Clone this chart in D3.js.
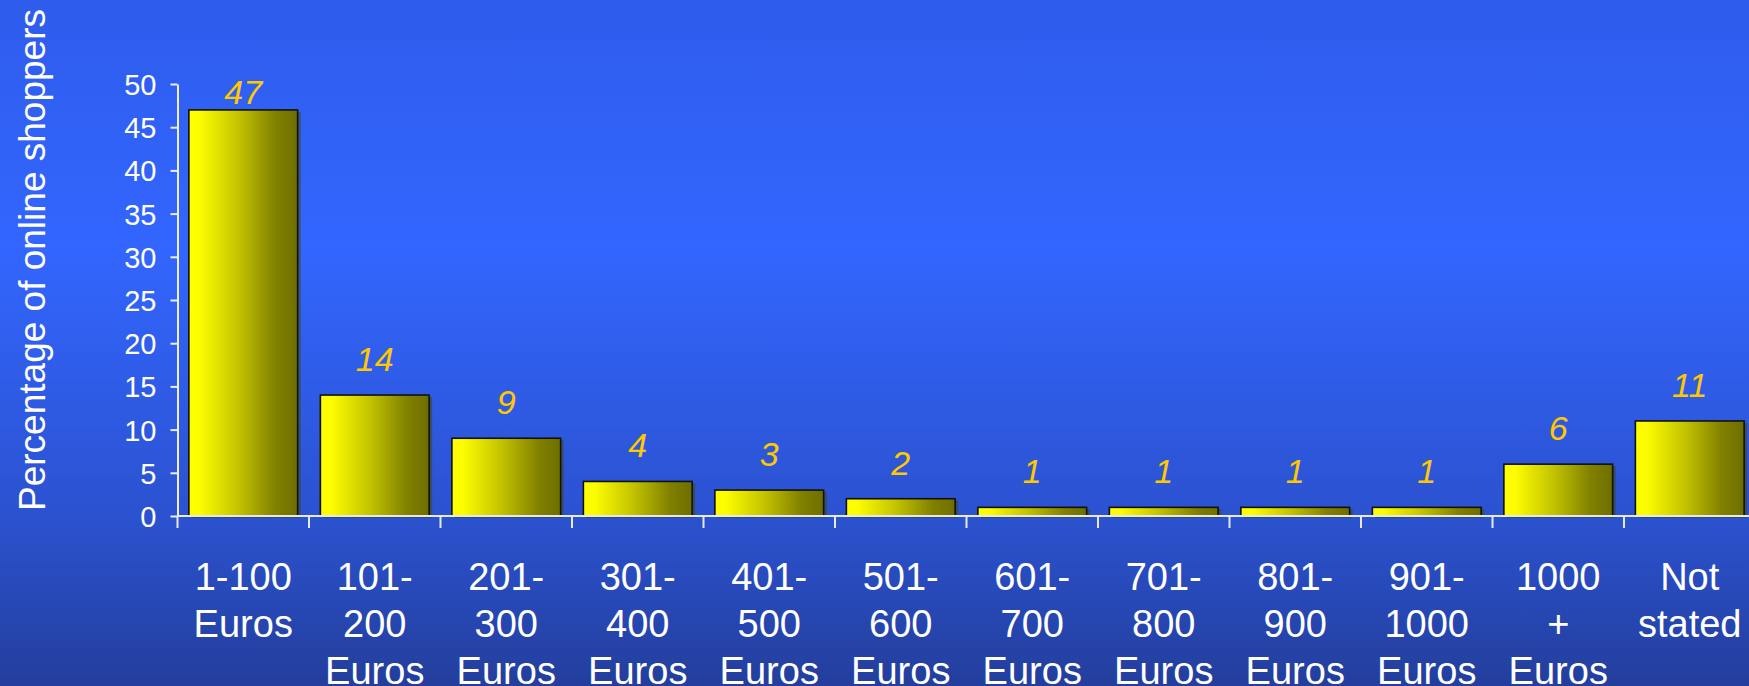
<!DOCTYPE html>
<html>
<head>
<meta charset="utf-8">
<script src="https://cdn.jsdelivr.net/npm/d3@7"></script>
<style>
  html, body { margin: 0; padding: 0; background: #2f5fef; }
  svg { display: block; }
  text { font-family: "Liberation Sans", Arial, Helvetica, sans-serif; }
</style>
</head>
<body>
<svg id="chart" width="1749" height="686"></svg>
<script>
// Spending ranges (categories) and the share of online shoppers in each
const categories = [
  "1-100 Euros", "101-200 Euros", "201-300 Euros", "301-400 Euros",
  "401-500 Euros", "501-600 Euros", "601-700 Euros", "701-800 Euros",
  "801-900 Euros", "901-1000 Euros", "1000 + Euros", "Not stated"
];
const shares = [47, 14, 9, 4, 3, 2, 1, 1, 1, 1, 6, 11];
const categoryLabelLines = [
  ["1-100", "Euros"], ["101-", "200", "Euros"], ["201-", "300", "Euros"],
  ["301-", "400", "Euros"], ["401-", "500", "Euros"], ["501-", "600", "Euros"],
  ["601-", "700", "Euros"], ["701-", "800", "Euros"], ["801-", "900", "Euros"],
  ["901-", "1000", "Euros"], ["1000", "+", "Euros"], ["Not", "stated"]
];
const yTicks = [0, 5, 10, 15, 20, 25, 30, 35, 40, 45, 50];
const yTitle = "Percentage of online shoppers";

const W = 1749, H = 686;
const svg = d3.select("#chart");
const defs = svg.append("defs");

// Slide-style blue backdrop
const bg = defs.append("linearGradient").attr("id", "bg")
  .attr("x1", 0).attr("y1", 0).attr("x2", 0).attr("y2", 1);
[[0, "#2e5cec"], [0.36, "#3366ff"], [0.75, "#2b52d0"], [1, "#233e9c"]]
  .forEach(([o, c]) => bg.append("stop").attr("offset", o).attr("stop-color", c));
svg.append("rect").attr("width", W).attr("height", H).attr("fill", "url(#bg)");

// Yellow-to-olive bar shading
const barGrad = defs.append("linearGradient").attr("id", "barGrad")
  .attr("x1", 0).attr("y1", 0).attr("x2", 1).attr("y2", 0);
[[0, "#ffff00"], [0.1, "#fdfd00"], [0.45, "#c4c400"], [0.8, "#808000"], [1, "#6e6e00"]]
  .forEach(([o, c]) => barGrad.append("stop").attr("offset", o).attr("stop-color", c));

const plotLeft = 177.5, step = 131.5, plotTop = 84, plotBottom = 516;
const pad = 0.173;

const x = d3.scaleBand()
  .domain(categories)
  .range([plotLeft, plotLeft + step * categories.length])
  .paddingInner(pad)
  .paddingOuter(pad / 2);

const y = d3.scaleLinear().domain([0, 50]).range([plotBottom, plotTop]);

// Bars with a faint drop shadow
const bars = svg.append("g");
bars.selectAll("rect.shadow").data(categories).join("rect")
  .attr("class", "shadow")
  .attr("x", d => x(d) + 3)
  .attr("y", (d, i) => y(shares[i]) + 2)
  .attr("width", x.bandwidth())
  .attr("height", (d, i) => y(0) - y(shares[i]))
  .attr("fill", "rgba(70,70,0,0.55)");
bars.selectAll("rect.bar").data(categories).join("rect")
  .attr("class", "bar")
  .attr("x", d => x(d))
  .attr("y", (d, i) => y(shares[i]))
  .attr("width", x.bandwidth())
  .attr("height", (d, i) => y(0) - y(shares[i]))
  .attr("fill", "url(#barGrad)")
  .attr("stroke", "#111")
  .attr("stroke-width", 1.6);

// Value labels above the bars
svg.append("g").selectAll("text").data(categories).join("text")
  .attr("x", d => x(d) + x.bandwidth() / 2)
  .attr("y", (d, i) => Math.max(y(shares[i]) - 24, y(50) + 20))
  .attr("text-anchor", "middle")
  .attr("font-size", 34)
  .attr("font-style", "italic")
  .attr("fill", "#ffc800")
  .text((d, i) => shares[i]);

// Y axis
const yAxis = svg.append("g")
  .attr("transform", `translate(${plotLeft},0)`)
  .call(d3.axisLeft(y).tickValues(yTicks).tickSize(7).tickSizeOuter(0).tickPadding(14));
yAxis.select(".domain").attr("stroke", "#eeeeee").attr("stroke-width", 2);
yAxis.selectAll(".tick line").attr("stroke", "#eeeeee").attr("stroke-width", 2);
yAxis.selectAll(".tick text")
  .attr("fill", "#ffffff")
  .attr("font-size", 29)
  .attr("font-family", "Liberation Sans, Arial, sans-serif")
  .attr("dy", "0.36em");

// X axis baseline and boundary ticks
const boundaries = categories.map(c => x(c) - x.step() * pad / 2)
  .concat([x(categories[categories.length - 1]) + x.bandwidth() + x.step() * pad / 2]);
const xAxis = svg.append("g");
xAxis.append("line")
  .attr("x1", plotLeft).attr("x2", W)
  .attr("y1", y(0)).attr("y2", y(0))
  .attr("stroke", "#e8e8e8").attr("stroke-width", 2.2);
xAxis.selectAll("line.tick").data(boundaries).join("line")
  .attr("class", "tick")
  .attr("x1", d => d).attr("x2", d => d)
  .attr("y1", y(0)).attr("y2", y(0) + 12)
  .attr("stroke", "#e8e8e8").attr("stroke-width", 2);

// Category labels, one tspan per line
const catText = svg.append("g").selectAll("text").data(categories).join("text")
  .attr("x", d => x(d) + x.bandwidth() / 2)
  .attr("y", 590)
  .attr("text-anchor", "middle")
  .attr("font-size", 38)
  .attr("fill", "#ffffff");
catText.each(function(d, i) {
  const t = d3.select(this);
  categoryLabelLines[i].forEach((line, k) => {
    t.append("tspan")
      .attr("x", x(d) + x.bandwidth() / 2)
      .attr("y", 590 + k * 47)
      .text(line);
  });
});

// Y axis title
svg.append("text")
  .attr("transform", `translate(45,${(plotTop + plotBottom) / 2 - 40}) rotate(-90)`)
  .attr("text-anchor", "middle")
  .attr("font-size", 37)
  .attr("fill", "#ffffff")
  .text(yTitle);
</script>
</body>
</html>
